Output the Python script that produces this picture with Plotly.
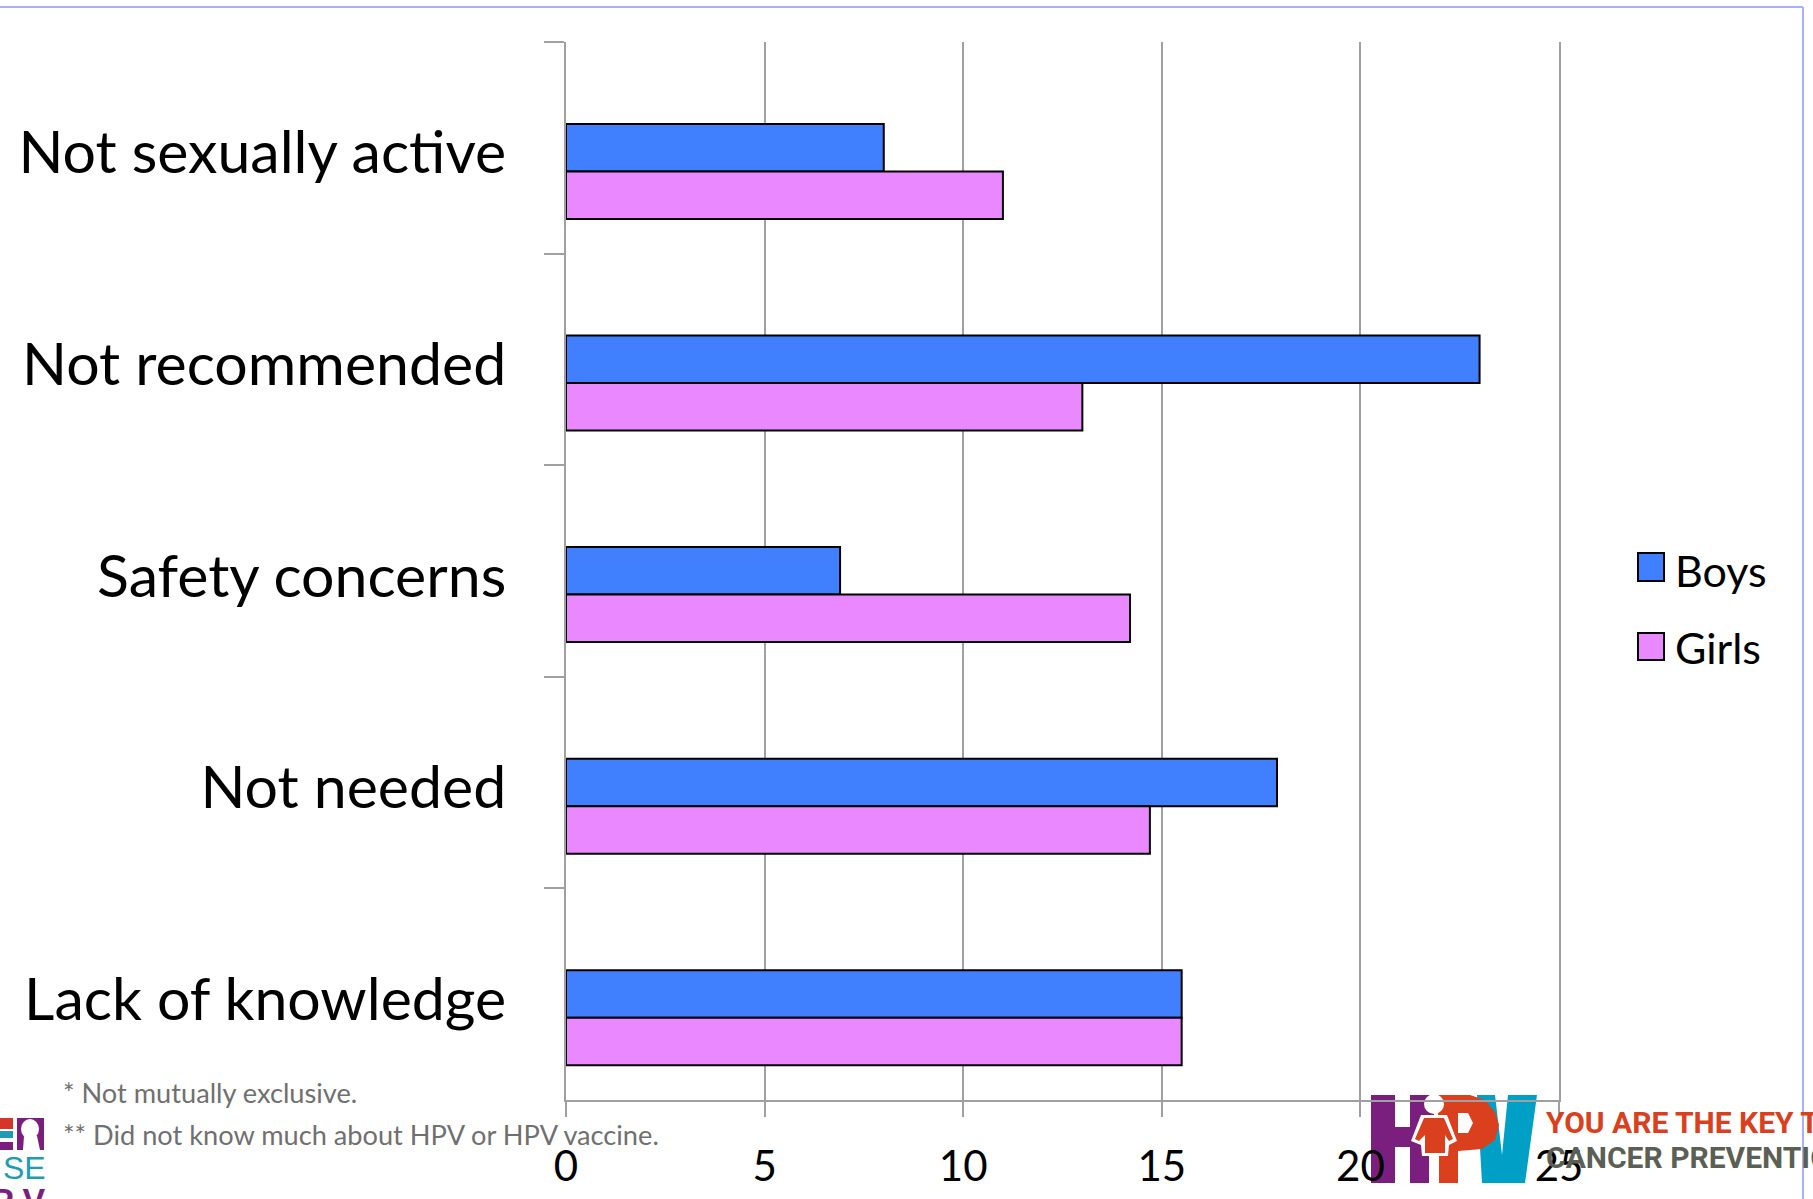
import plotly.graph_objects as go

W, H = 1813, 1199
categories = ["Not sexually active", "Not recommended", "Safety concerns", "Not needed", "Lack of knowledge"]
boys = [8.0, 23.0, 6.9, 17.9, 15.5]
girls = [11.0, 13.0, 14.2, 14.7, 15.5]
x_ticks = [0, 5, 10, 15, 20, 25]
notes = ["* Not mutually exclusive.", "** Did not know much about HPV or HPV vaccine."]
series_names = ["Boys", "Girls"]
BOY, GIRL = "#4080FF", "#EA88FF"
GRID = "#A0A0A0"
FONT = "Lato"
L, R, T, B = 566, 1559, 42, 1100


def px(x):
    return (x - L) / (R - L)


def py(y):
    return (B - y) / (B - T)


def path(points):
    return "M" + " L".join(f"{px(a):.5f},{py(b):.5f}" for a, b in points) + " Z"


fig = go.Figure()
bar_w = 0.2245
off = -0.113
fig.add_bar(y=categories, x=boys, name=series_names[0], orientation="h", width=bar_w, offset=off,
            marker=dict(color=BOY, line=dict(color="black", width=2)))
fig.add_bar(y=categories, x=girls, name=series_names[1], orientation="h", width=bar_w, offset=off + bar_w,
            marker=dict(color=GIRL, line=dict(color="black", width=2)))

shapes = []


def rect(x0, y0, x1, y1, fill, line=None, lw=0, layer="below"):
    shapes.append(dict(type="rect", xref="paper", yref="paper", x0=px(x0), x1=px(x1), y0=py(y0), y1=py(y1),
                       fillcolor=fill, line=dict(color=line or fill, width=lw), layer=layer))


def poly(points, fill):
    shapes.append(dict(type="path", xref="paper", yref="paper", path=path(points), fillcolor=fill,
                       line=dict(width=0), layer="below"))


def disc(x0, y0, x1, y1, fill):
    shapes.append(dict(type="circle", xref="paper", yref="paper", x0=px(x0), x1=px(x1), y0=py(y0), y1=py(y1),
                       fillcolor=fill, line=dict(width=0), layer="below"))


# frame
shapes.append(dict(type="line", xref="paper", yref="paper", x0=px(0), x1=px(1803), y0=py(7), y1=py(7),
                   line=dict(color="#AAB0FF", width=2)))
shapes.append(dict(type="line", xref="paper", yref="paper", x0=px(1803), x1=px(1803), y0=py(7), y1=py(H),
                   line=dict(color="#AAB0FF", width=2)))

# legend
rect(1638, 553, 1664, 581, BOY, "black", 2, "above")
rect(1638, 633, 1664, 660, GIRL, "black", 2, "above")

# HPV logo
PURPLE, ORANGE, TEAL = "#7A1F7D", "#DA401E", "#00A0C6"
rect(1371, 1095, 1395, 1183, PURPLE)
rect(1410, 1095, 1434, 1183, PURPLE)
rect(1395, 1127, 1410, 1147, PURPLE)
poly([(1477, 1095), (1495, 1095), (1502, 1155), (1508, 1095), (1537, 1095), (1525, 1183), (1482, 1183)], TEAL)
poly([(1438, 1095), (1470, 1095), (1485, 1100), (1495, 1112), (1499, 1125), (1495, 1140), (1482, 1149),
      (1458, 1151), (1458, 1183), (1434, 1183), (1434, 1157), (1438, 1157)], ORANGE)
poly([(1458, 1113), (1468, 1113), (1473, 1123), (1468, 1133), (1458, 1133)], "white")
disc(1424, 1094, 1444, 1114, "white")
poly([(1421, 1115), (1447, 1115), (1457, 1141), (1449, 1145), (1448, 1156), (1422, 1156), (1421, 1145), (1411, 1141)], "white")
poly([(1424, 1118), (1444, 1118), (1453, 1139), (1449, 1141), (1445, 1135), (1445, 1153), (1425, 1153), (1425, 1135), (1419, 1141), (1415, 1139)], ORANGE)
poly([(1429, 1155), (1439, 1155), (1439, 1183), (1429, 1183)], "white")

# left logo
rect(0, 1118, 13, 1129, "#D7342A")
rect(0, 1131, 13, 1138, "#1E9CB4")
rect(0, 1142, 13, 1150, PURPLE)
rect(17, 1118, 44, 1150, PURPLE)
disc(21, 1119, 39, 1139, "white")
poly([(24, 1136), (37, 1136), (40, 1150), (23, 1150)], "white")

annotations = []


def text(t, x, y, size, color, xanchor="left", weight=None, family=FONT):
    f = dict(size=size, color=color, family=family)
    if weight:
        f["weight"] = weight
    annotations.append(dict(text=t, xref="paper", yref="paper", x=px(x), y=py(y), xanchor=xanchor, yanchor="middle",
                            showarrow=False, font=f, borderpad=0, borderwidth=0))


text(series_names[0], 1675, 570, 43, "black")
text(series_names[1], 1675, 648, 43, "black")
text(notes[0], 63, 1092, 27.2, "#707070")
text(notes[1], 63, 1134, 27.2, "#707070")
text("YOU ARE THE KEY TO", 1546, 1122, 30, ORANGE, weight=700, family="Roboto")
text("CANCER PREVENTION", 1546, 1157, 30, "#5B5F54", weight=700, family="Roboto")
text("SE", 46, 1168, 32, "#1E9CB4", "right", family="Liberation Sans")
text("P V", 46, 1200, 34, PURPLE, "right", 700, "Liberation Sans")

fig.update_layout(
    width=W, height=H, autosize=False,
    margin=dict(l=L, r=W - R, t=T, b=H - B, pad=0),
    paper_bgcolor="white", plot_bgcolor="rgba(0,0,0,0)",
    barmode="overlay", showlegend=False,
    font=dict(family=FONT, color="black"),
    shapes=shapes, annotations=annotations,
    xaxis=dict(range=[0, 25], tickmode="array", tickvals=x_ticks, ticks="outside", ticklen=15, tickwidth=2,
               tickcolor=GRID, showgrid=True, gridcolor=GRID, gridwidth=2, zeroline=False, showline=True,
               linecolor=GRID, linewidth=2, tickfont=dict(size=42, family=FONT, color="black"), automargin=False,
               ticklabelstandoff=14),
    yaxis=dict(autorange=False, range=[4.5, -0.5], type="category", categoryorder="array", categoryarray=categories,
               tickson="boundaries", ticks="outside", ticklen=20, tickwidth=2, tickcolor=GRID, showgrid=False,
               zeroline=False, showline=True, mirror=True, linecolor=GRID, linewidth=2, ticklabelstandoff=46,
               ticklabelshift=-5, tickfont=dict(size=59, family=FONT, color="black"), automargin=False),
)
fig.write_html("out.html", config={"displayModeBar": False},
               post_script="document.body.style.margin='0';document.body.style.overflow='hidden';")
